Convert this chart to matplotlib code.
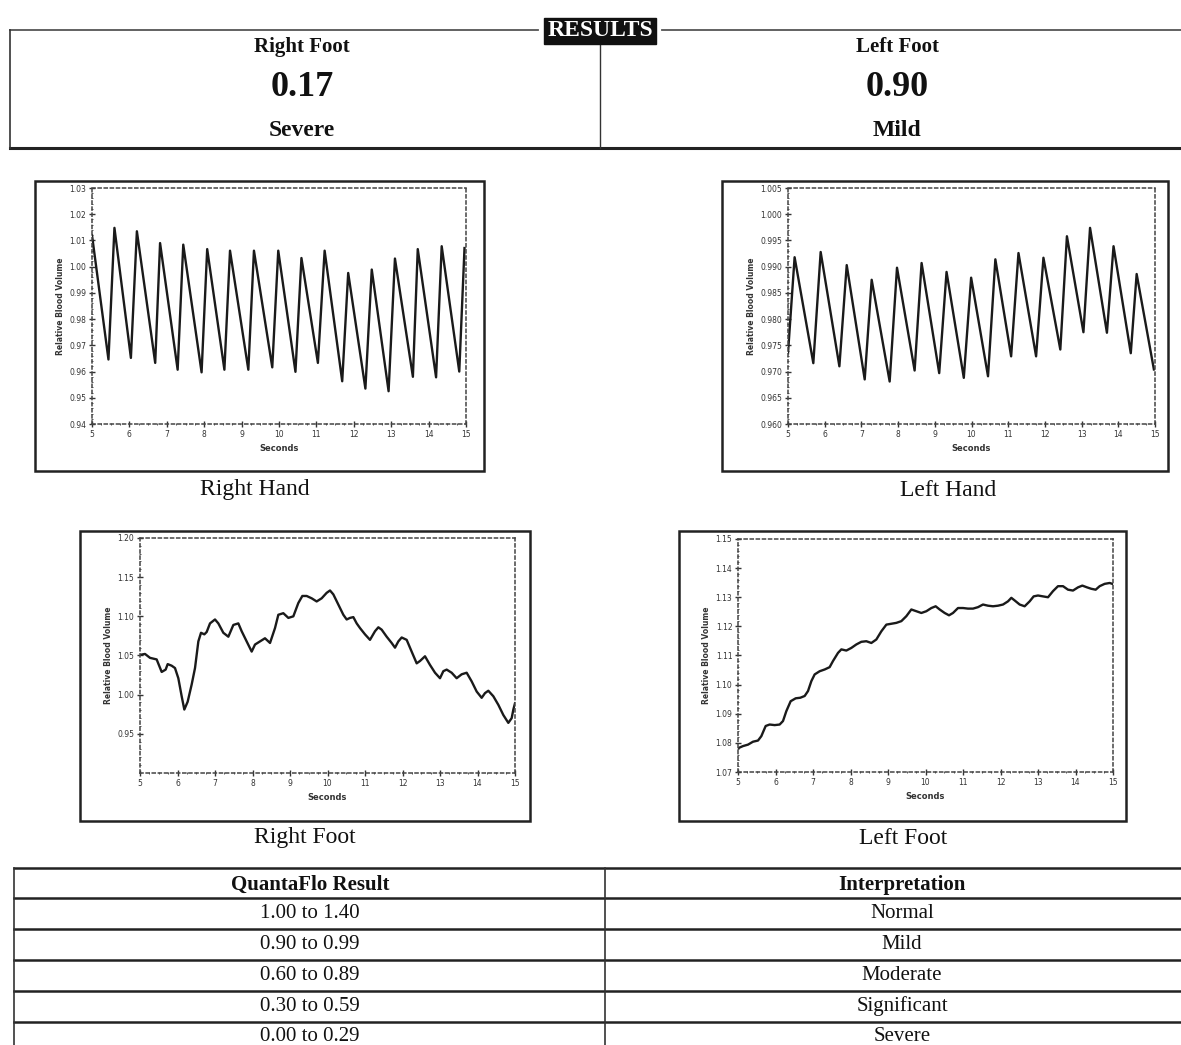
import numpy as np                                   # numpy for tick arrays
import matplotlib
matplotlib.use('Agg')                                # no display, write to file
import matplotlib.pyplot as plt                      # matplotlib for drawing
from matplotlib.patches import Rectangle
from matplotlib.lines import Line2D
from matplotlib.ticker import AutoMinorLocator, FormatStrFormatter

# ---- data ----
result_sides = ['Right Foot', 'Left Foot']
result_values = ['0.17', '0.90']
result_grades = ['Severe', 'Mild']

table_header = ['QuantaFlo Result', 'Interpretation']
table_ranges = ['1.00 to 1.40', '0.90 to 0.99', '0.60 to 0.89', '0.30 to 0.59', '0.00 to 0.29']
table_grades = ['Normal', 'Mild', 'Moderate', 'Significant', 'Severe']

rh_t = [5.0, 5.44, 5.60, 6.04, 6.20, 6.69, 6.82, 7.29, 7.44, 7.93, 8.08, 8.54, 8.69, 9.18, 9.33,
        9.82, 9.98, 10.44, 10.60, 11.04, 11.22, 11.69, 11.85, 12.31, 12.48, 12.93, 13.10,
        13.58, 13.71, 14.20, 14.35, 14.82, 14.96]
rh_v = [1.012, 0.9646, 1.0148, 0.9652, 1.0135, 0.9633, 1.0090, 0.9607, 1.0084, 0.9597, 1.0067,
        0.9607, 1.0061, 0.9607, 1.0061, 0.9616, 1.0061, 0.9599, 1.0033, 0.9633, 1.0061, 0.9563,
        0.9976, 0.9535, 0.9989, 0.9525, 1.0031, 0.9580, 1.0067, 0.9578, 1.0078, 0.9600, 1.0071]
rh_yticks = [0.94, 0.95, 0.96, 0.97, 0.98, 0.99, 1.00, 1.01, 1.02, 1.03]

lh_t = [5.0, 5.18, 5.69, 5.89, 6.40, 6.60, 7.09, 7.28, 7.77, 7.97, 8.45, 8.64, 9.12, 9.32, 9.79,
        9.99, 10.45, 10.65, 11.08, 11.28, 11.76, 11.96, 12.42, 12.60, 13.05, 13.23, 13.69, 13.87,
        14.34, 14.50, 14.97]
lh_v = [0.9735, 0.9918, 0.9716, 0.9928, 0.9710, 0.9903, 0.9685, 0.9875, 0.9681, 0.9898, 0.9702,
        0.9907, 0.9697, 0.9890, 0.9688, 0.9879, 0.9691, 0.9914, 0.9729, 0.9926, 0.9729, 0.9917,
        0.9742, 0.9958, 0.9775, 0.9974, 0.9774, 0.9939, 0.9735, 0.9886, 0.9704]
lh_yticks = [0.960, 0.965, 0.970, 0.975, 0.980, 0.985, 0.990, 0.995, 1.000, 1.005]

rf_t = [5.027, 5.133, 5.267, 5.444, 5.578, 5.684, 5.738, 5.844, 5.933, 6.022, 6.111, 6.182, 6.271,
        6.378, 6.467, 6.556, 6.627, 6.716, 6.778, 6.867, 7.000, 7.089, 7.222, 7.356, 7.489, 7.622,
        7.711, 7.844, 7.978, 8.067, 8.200, 8.333, 8.467, 8.600, 8.689, 8.822, 8.956, 9.089, 9.222,
        9.329, 9.444, 9.578, 9.711, 9.844, 9.978, 10.067, 10.156, 10.289, 10.422, 10.511, 10.600,
        10.689, 10.778, 10.867, 11.000, 11.133, 11.267, 11.356, 11.444, 11.578, 11.711, 11.800,
        11.889, 11.978, 12.111, 12.244, 12.378, 12.467, 12.600, 12.733, 12.867, 13.000, 13.089,
        13.178, 13.311, 13.444, 13.578, 13.711, 13.844, 13.978, 14.111, 14.200, 14.289, 14.422,
        14.556, 14.689, 14.822, 14.911, 14.956, 15.000]
rf_v = [1.051, 1.052, 1.047, 1.045, 1.029, 1.032, 1.039, 1.037, 1.034, 1.021, 0.998, 0.981, 0.991,
        1.013, 1.034, 1.068, 1.079, 1.077, 1.080, 1.091, 1.096, 1.091, 1.079, 1.074, 1.089, 1.091,
        1.081, 1.068, 1.055, 1.064, 1.068, 1.072, 1.066, 1.085, 1.102, 1.104, 1.098, 1.100, 1.117,
        1.126, 1.126, 1.123, 1.119, 1.123, 1.130, 1.133, 1.128, 1.115, 1.102, 1.096, 1.098, 1.099,
        1.091, 1.085, 1.077, 1.070, 1.081, 1.086, 1.083, 1.074, 1.066, 1.060, 1.068, 1.073, 1.070,
        1.055, 1.040, 1.043, 1.049, 1.038, 1.028, 1.021, 1.030, 1.032, 1.028, 1.021, 1.026, 1.028,
        1.017, 1.004, 0.996, 1.002, 1.005, 0.998, 0.987, 0.974, 0.964, 0.970, 0.981, 0.989]
rf_yticks = [0.95, 1.00, 1.05, 1.10, 1.15, 1.20]

lf_t = [5.027, 5.133, 5.267, 5.400, 5.533, 5.622, 5.738, 5.844, 5.978, 6.111, 6.200, 6.289, 6.404,
        6.538, 6.662, 6.778, 6.867, 6.956, 7.044, 7.178, 7.311, 7.444, 7.533, 7.667, 7.756, 7.889,
        8.022, 8.156, 8.289, 8.422, 8.556, 8.689, 8.822, 8.956, 9.089, 9.222, 9.356, 9.489, 9.622,
        9.756, 9.889, 10.022, 10.156, 10.271, 10.378, 10.511, 10.627, 10.733, 10.867, 11.000,
        11.133, 11.267, 11.400, 11.533, 11.667, 11.800, 11.933, 12.067, 12.200, 12.289, 12.378,
        12.511, 12.644, 12.778, 12.884, 13.000, 13.133, 13.267, 13.400, 13.533, 13.667, 13.800,
        13.933, 14.067, 14.182, 14.307, 14.422, 14.538, 14.644, 14.778, 14.911, 14.982]
lf_v = [1.0783, 1.0789, 1.0794, 1.0804, 1.0808, 1.0823, 1.0858, 1.0863, 1.0861, 1.0863, 1.0875,
        1.0909, 1.0943, 1.0953, 1.0955, 1.0961, 1.0978, 1.1012, 1.1035, 1.1046, 1.1052, 1.1060,
        1.1081, 1.1109, 1.1121, 1.1117, 1.1126, 1.1138, 1.1147, 1.1149, 1.1143, 1.1155, 1.1183,
        1.1206, 1.1209, 1.1212, 1.1218, 1.1235, 1.1258, 1.1252, 1.1246, 1.1252, 1.1263, 1.1269,
        1.1258, 1.1246, 1.1238, 1.1246, 1.1263, 1.1263, 1.1261, 1.1261, 1.1266, 1.1275, 1.1271,
        1.1269, 1.1271, 1.1275, 1.1286, 1.1298, 1.1289, 1.1275, 1.1269, 1.1286, 1.1303, 1.1306,
        1.1303, 1.1300, 1.1321, 1.1338, 1.1338, 1.1326, 1.1323, 1.1334, 1.1340, 1.1334, 1.1329,
        1.1326, 1.1338, 1.1346, 1.1349, 1.1346]
lf_yticks = [1.07, 1.08, 1.09, 1.10, 1.11, 1.12, 1.13, 1.14, 1.15]

x_ticks = list(range(5, 16))

# ---- figure in pixel units ----
W, H = 1181, 1045
fig = plt.figure(figsize=(W / 100, H / 100), dpi=100)
fig.patch.set_facecolor('white')
serif = 'Liberation Serif'


def fx(x):  # pixel x -> figure fraction
    return x / W


def fy(y):  # pixel y (from top) -> figure fraction
    return 1 - y / H


def hline(x0, x1, y, lw=1.6, c='#222222'):
    fig.add_artist(Line2D([fx(x0), fx(x1)], [fy(y), fy(y)], lw=lw, color=c, transform=fig.transFigure))


def vline(x, y0, y1, lw=1.2, c='#333333'):
    fig.add_artist(Line2D([fx(x), fx(x)], [fy(y0), fy(y1)], lw=lw, color=c, transform=fig.transFigure))


def ftext(x, y, s, color='#111111', **kw):
    fig.text(fx(x), fy(y), s, ha='center', va='center', family=serif, color=color, **kw)


# ---- results box on top ----
hline(10, 538, 30, lw=1.3, c='#555555')
hline(662, W, 30, lw=1.3, c='#555555')
hline(10, W, 148, lw=2.2)
vline(10, 30, 148)
vline(600, 45, 148, lw=1.0)
ftext(600, 31, 'RESULTS', fontsize=17, weight='bold', color='white',
      bbox=dict(boxstyle='square,pad=0.12', fc='#111111', ec='#111111'))
for cx, side, val, grade in zip([302, 897], result_sides, result_values, result_grades):
    ftext(cx, 47, side, fontsize=15, weight='bold')
    ftext(cx, 88, val, fontsize=26, weight='bold')
    ftext(cx, 130, grade, fontsize=17, weight='bold')


# ---- four waveform panels ----
def panel(box, ax_px, t, v, yticks, ylim, fmt, caption, cap_xy):
    bx0, by0, bx1, by1 = box
    fig.add_artist(Rectangle((fx(bx0), fy(by1)), fx(bx1) - fx(bx0), fy(by0) - fy(by1),
                             transform=fig.transFigure, fill=False, ec='#222222', lw=1.8))
    x0, y0, x1, y1 = ax_px
    ax = fig.add_axes([fx(x0), fy(y1), fx(x1) - fx(x0), fy(y0) - fy(y1)])
    ax.plot(t, v, color='#1a1a1a', lw=1.7, solid_joinstyle='round')
    ax.set_xlim(5, 15)
    ax.set_ylim(*ylim)
    ax.set_xticks(x_ticks)
    ax.set_yticks(yticks)
    ax.yaxis.set_major_formatter(FormatStrFormatter(fmt))
    ax.xaxis.set_minor_locator(AutoMinorLocator(4))
    ax.yaxis.set_minor_locator(AutoMinorLocator(5))
    ax.tick_params(which='major', direction='inout', length=4, width=1.0, labelsize=5.5,
                   colors='#333333', pad=2)
    ax.tick_params(which='minor', direction='inout', length=2, width=0.7, colors='#555555')
    for name, sp in ax.spines.items():
        sp.set_linestyle((0, (2, 2)))
        sp.set_color('#444444')
        sp.set_linewidth(1.1)
    ax.set_ylabel('Relative Blood Volume', fontsize=5.5, weight='bold', color='#333333', labelpad=3)
    ax.set_xlabel('Seconds', fontsize=6, weight='bold', color='#333333', labelpad=4)
    ftext(cap_xy[0], cap_xy[1], caption, fontsize=17)
    return ax


panel((35, 181, 484, 471), (92, 188, 466, 424), rh_t, rh_v, rh_yticks, (0.94, 1.03), '%.2f',
      'Right Hand', (255, 490))
panel((722, 181, 1168, 471), (788, 188, 1155, 424), lh_t, lh_v, lh_yticks, (0.960, 1.005), '%.3f',
      'Left Hand', (948, 490))
panel((80, 531, 530, 821), (140, 538, 515, 773), rf_t, rf_v, rf_yticks, (0.90, 1.20), '%.2f',
      'Right Foot', (305, 838))
panel((679, 531, 1126, 821), (738, 539, 1113, 772), lf_t, lf_v, lf_yticks, (1.07, 1.15), '%.2f',
      'Left Foot', (903, 838))

# ---- interpretation table at the bottom ----
row_lines = [868, 898, 929, 960, 991, 1022]
for y in row_lines:
    hline(14, W, y, lw=1.8)
vline(14, 868, H)
vline(605, 868, H)
ftext(310, 885, table_header[0], fontsize=15, weight='bold')
ftext(902, 885, table_header[1], fontsize=15, weight='bold')
for i, (rng, grade) in enumerate(zip(table_ranges, table_grades)):
    yc = 914 + i * 30.7
    ftext(310, yc, rng, fontsize=15)
    ftext(902, yc, grade, fontsize=15)

fig.savefig('out.png', dpi=100, facecolor='white')
